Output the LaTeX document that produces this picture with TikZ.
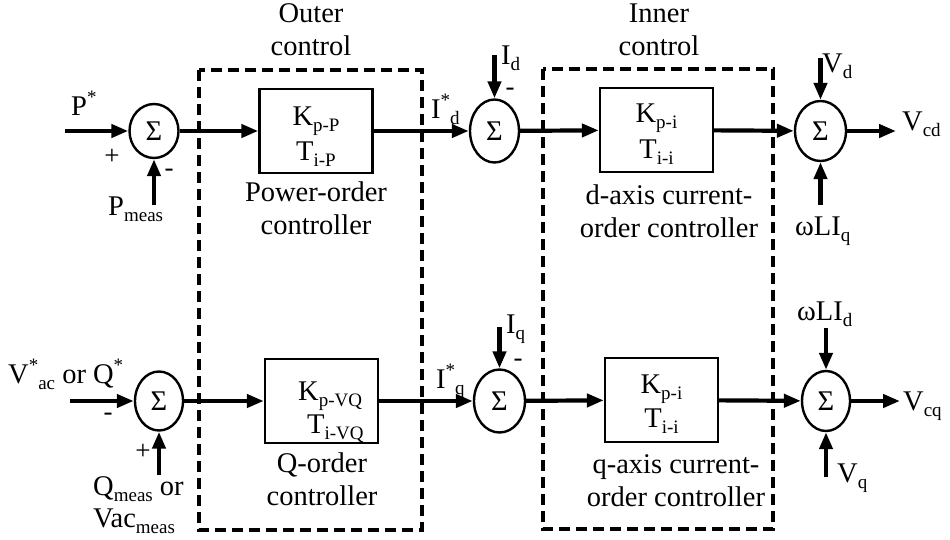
\documentclass[tikz,border=0pt]{standalone}
\usepackage{fontspec}
\setmainfont{Liberation Serif}
\usetikzlibrary{arrows.meta,shapes.geometric}
\newcommand{\sbs}[1]{\raisebox{-0.22em}{\fontsize{19}{19}\selectfont #1}}
\newcommand{\sps}[1]{\raisebox{0.42em}{\fontsize{19}{19}\selectfont #1}}
\begin{document}
\begin{tikzpicture}[x=1pt,y=-1pt,
  font=\fontsize{28.5}{33}\selectfont,
  sumnode/.style={draw, ellipse, line width=2.4pt, inner sep=0pt},
  blk/.style={draw, line width=2.4pt, inner sep=0pt, minimum width=113pt, minimum height=84pt},
  sigline/.style={line width=4.2pt, -{Triangle[length=17pt,width=13pt]}},
  frame/.style={line width=3.2pt, dash pattern=on 11pt off 6pt},
  lbl/.style={inner sep=0pt, anchor=base west},
  ctr/.style={inner sep=0pt, anchor=base},
  sgn/.style={inner sep=0pt, font=\fontsize{27}{27}\selectfont},
  ttl/.style={inner sep=0pt, align=center}]
\useasboundingbox (0,0) rectangle (950,539);

% dashed frames
\draw[frame] (199,70) rectangle (422,530);
\draw[frame] (543,69) rectangle (773,529);
\node[ttl] (tout) at (311,30) {Outer\\control};
\node[ttl] (tin) at (659,30) {Inner\\control};

% ---------- row 1 ----------
\coordinate (in1) at (65,131);
\node[sumnode, minimum width=49pt, minimum height=54pt] (s1) at (154,131) {Σ};
\node[blk] (b1) at (316,131) {};
\node[sumnode, minimum width=49pt, minimum height=63pt] (s2) at (494.5,131) {Σ};
\node[blk] (b3) at (656.5,130) {};
\node[sumnode, minimum width=51pt, minimum height=60pt] (s4) at (820.5,131) {Σ};
\coordinate (pm) at (154,205);
\coordinate (idin) at (494.5,55);
\coordinate (vdin) at (820.5,58);
\coordinate (wlq) at (820.5,205);
\coordinate (vcd) at (896,131);

\draw[sigline] (in1) -- (s1);
\draw[sigline] (pm) -- (s1);
\draw[sigline] (s1) -- (b1);
\draw[sigline] (b1) -- (s2);
\draw[sigline] (idin) -- (s2);
\draw[sigline] (s2) -- (b3);
\draw[sigline] (b3) -- (s4);
\draw[sigline] (vdin) -- (s4);
\draw[sigline] (wlq) -- (s4);
\draw[sigline] (s4) -- (vcd);

\node[lbl] (lP) at (71,115) {P\sps{*}};
\node[sgn] (pl1) at (112,157) {+};
\node[sgn] (mi1) at (169,173) {-};
\node[lbl] (lPm) at (108,215) {P\sbs{meas}};
\node[ctr] (k1) at (316,125) {K\sbs{p-P}};
\node[ctr] (t1) at (316,160) {T\sbs{i-P}};
\node[ttl] (c1) at (316,208) {Power-order\\controller};
\node[lbl] (lId) at (431,118) {I\sps{*}\sbs{d}};
\node[lbl] (lId2) at (501,64) {I\sbs{d}};
\node[sgn] (mi2) at (510,92) {-};
\node[ctr] (k3) at (656.5,122) {K\sbs{p-i}};
\node[ctr] (t3) at (656.5,158) {T\sbs{i-i}};
\node[ttl] (c3) at (669,211) {d-axis current-\\order controller};
\node[lbl] (lVd) at (822,72) {V\sbs{d}};
\node[lbl] (lVcd) at (902,130) {V\sbs{cd}};
\node[lbl] (lwq) at (795,235) {ωLI\sbs{q}};

% ---------- row 2 ----------
\coordinate (in2) at (70,401);
\node[sumnode, minimum width=48pt, minimum height=59pt] (s5) at (159,401) {Σ};
\node[blk] (b2) at (321.5,401) {};
\node[sumnode, minimum width=51pt, minimum height=63pt] (s6) at (499.5,401) {Σ};
\node[blk] (b4) at (661.5,400) {};
\node[sumnode, minimum width=48pt, minimum height=60pt] (s7) at (826,401) {Σ};
\coordinate (qm) at (159,475);
\coordinate (iqin) at (499.5,327);
\coordinate (wld) at (826,328);
\coordinate (vqin) at (826,477);
\coordinate (vcq) at (900,401);

\draw[sigline] (in2) -- (s5);
\draw[sigline] (qm) -- (s5);
\draw[sigline] (s5) -- (b2);
\draw[sigline] (b2) -- (s6);
\draw[sigline] (iqin) -- (s6);
\draw[sigline] (s6) -- (b4);
\draw[sigline] (b4) -- (s7);
\draw[sigline] (wld) -- (s7);
\draw[sigline] (vqin) -- (s7);
\draw[sigline] (s7) -- (vcq);

\node[lbl] (lV) at (8,383) {V\sps{*}\sbs{ac} or Q\sps{*}};
\node[sgn] (mi5) at (108,417) {-};
\node[sgn] (pl5) at (143,452) {+};
\node[lbl] (lQm) at (93,495) {Q\sbs{meas} or};
\node[lbl] (lVm) at (93,527) {Vac\sbs{meas}};
\node[lbl] (k2) at (298,400) {K\sbs{p-VQ}};
\node[lbl] (t2) at (307,433) {T\sbs{i-VQ}};
\node[ttl] (c2) at (322,479) {Q-order\\controller};
\node[lbl] (lIq) at (436,388) {I\sps{*}\sbs{q}};
\node[lbl] (lIq2) at (506,333) {I\sbs{q}};
\node[sgn] (mi6) at (518,363) {-};
\node[ctr] (k4) at (661.5,393) {K\sbs{p-i}};
\node[ctr] (t4) at (661.5,427) {T\sbs{i-i}};
\node[ttl] (c4) at (676,481) {q-axis current-\\order controller};
\node[lbl] (lwd) at (797,320) {ωLI\sbs{d}};
\node[lbl] (lVq) at (837,482) {V\sbs{q}};
\node[lbl] (lVcq) at (903,410) {V\sbs{cq}};
\end{tikzpicture}
\end{document}
